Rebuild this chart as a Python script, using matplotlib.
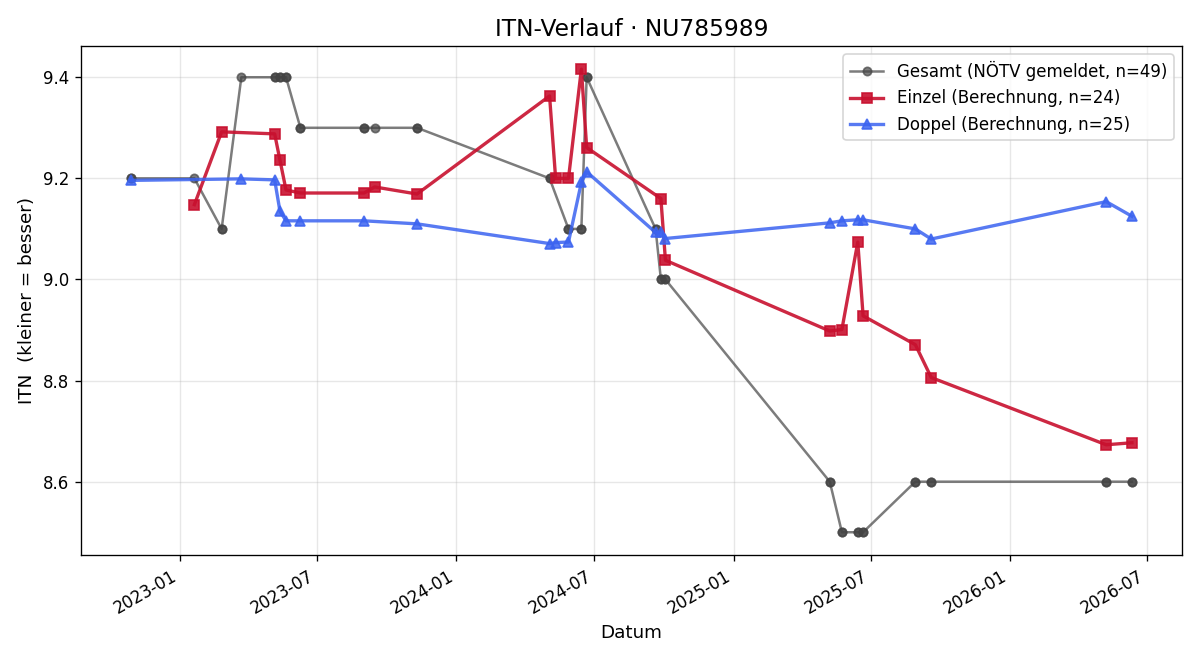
import matplotlib
matplotlib.use("Agg")
import matplotlib.pyplot as plt
import matplotlib.dates as mdates
import pandas as pd

# Gesamt (NÖTV gemeldet)
gesamt_dates = ["2022-10-28", "2022-10-28", "2023-01-20", "2023-02-25", "2023-02-25",
                "2023-03-23", "2023-05-06", "2023-05-06", "2023-05-13", "2023-05-13",
                "2023-05-21", "2023-05-21", "2023-06-09", "2023-06-09", "2023-09-01",
                "2023-09-01", "2023-09-15", "2023-11-10", "2023-11-10", "2024-05-03",
                "2024-05-03", "2024-05-28", "2024-05-28", "2024-06-14", "2024-06-14",
                "2024-06-21", "2024-06-21", "2024-09-20", "2024-09-20", "2024-09-27",
                "2024-09-27", "2024-10-03", "2024-10-03", "2025-05-08", "2025-05-08",
                "2025-05-24", "2025-05-24", "2025-06-14", "2025-06-14", "2025-06-21",
                "2025-06-21", "2025-08-29", "2025-08-29", "2025-09-19", "2025-09-19",
                "2026-05-08", "2026-05-08", "2026-06-11", "2026-06-11"]
gesamt_vals = [9.2, 9.2, 9.2, 9.1, 9.1,
               9.4, 9.4, 9.4, 9.4, 9.4,
               9.4, 9.4, 9.3, 9.3, 9.3,
               9.3, 9.3, 9.3, 9.3, 9.2,
               9.2, 9.1, 9.1, 9.1, 9.1,
               9.4, 9.4, 9.1, 9.1, 9.0,
               9.0, 9.0, 9.0, 8.6, 8.6,
               8.5, 8.5, 8.5, 8.5, 8.5,
               8.5, 8.6, 8.6, 8.6, 8.6,
               8.6, 8.6, 8.6, 8.6]

# Einzel (Berechnung)
einzel_dates = ["2023-01-20", "2023-02-25", "2023-05-06", "2023-05-13", "2023-05-21",
                "2023-06-09", "2023-09-01", "2023-09-15", "2023-11-10", "2024-05-03",
                "2024-05-11", "2024-05-28", "2024-06-14", "2024-06-21", "2024-09-27",
                "2024-10-03", "2025-05-08", "2025-05-24", "2025-06-14", "2025-06-21",
                "2025-08-29", "2025-09-19", "2026-05-08", "2026-06-11"]
einzel_vals = [9.148, 9.292, 9.288, 9.236, 9.177,
               9.171, 9.171, 9.183, 9.169, 9.363,
               9.200, 9.200, 9.416, 9.261, 9.160,
               9.038, 8.898, 8.901, 9.074, 8.928,
               8.871, 8.806, 8.673, 8.677]

# Doppel (Berechnung)
doppel_dates = ["2022-10-28", "2023-03-23", "2023-05-06", "2023-05-13", "2023-05-21",
                "2023-06-09", "2023-09-01", "2023-11-10", "2024-05-03", "2024-05-11",
                "2024-05-28", "2024-06-14", "2024-06-21", "2024-09-20", "2024-09-27",
                "2024-10-03", "2025-05-08", "2025-05-24", "2025-06-14", "2025-06-21",
                "2025-08-29", "2025-09-19", "2026-05-08", "2026-06-11"]
doppel_vals = [9.196, 9.199, 9.197, 9.135, 9.116,
               9.116, 9.116, 9.110, 9.071, 9.073,
               9.074, 9.192, 9.213, 9.093, 9.093,
               9.081, 9.112, 9.116, 9.118, 9.118,
               9.100, 9.080, 9.154, 9.125]

fig, ax = plt.subplots(figsize=(10, 5.5), dpi=120)

ax.plot(pd.to_datetime(gesamt_dates), gesamt_vals, marker="o", color="#444444",
        alpha=0.7, linewidth=1.5, markersize=5, label="Gesamt (NÖTV gemeldet, n=49)")
ax.plot(pd.to_datetime(einzel_dates), einzel_vals, marker="s", color="#c8102e",
        alpha=0.9, linewidth=2, markersize=6, label="Einzel (Berechnung, n=24)")
ax.plot(pd.to_datetime(doppel_dates), doppel_vals, marker="^", color="#3b63f0",
        alpha=0.85, linewidth=2, markersize=6, label="Doppel (Berechnung, n=25)")

ax.set_title("ITN-Verlauf · NU785989", fontsize=14)
ax.set_xlabel("Datum", fontsize=11)
ax.set_ylabel("ITN  (kleiner = besser)", fontsize=11)
ax.grid(True, alpha=0.3)
ax.xaxis.set_major_locator(mdates.MonthLocator(bymonth=[1, 7]))
ax.xaxis.set_major_formatter(mdates.DateFormatter("%Y-%m"))
ax.legend(loc="upper right")
fig.autofmt_xdate()
fig.tight_layout()
fig.savefig("out.png", dpi=120)
